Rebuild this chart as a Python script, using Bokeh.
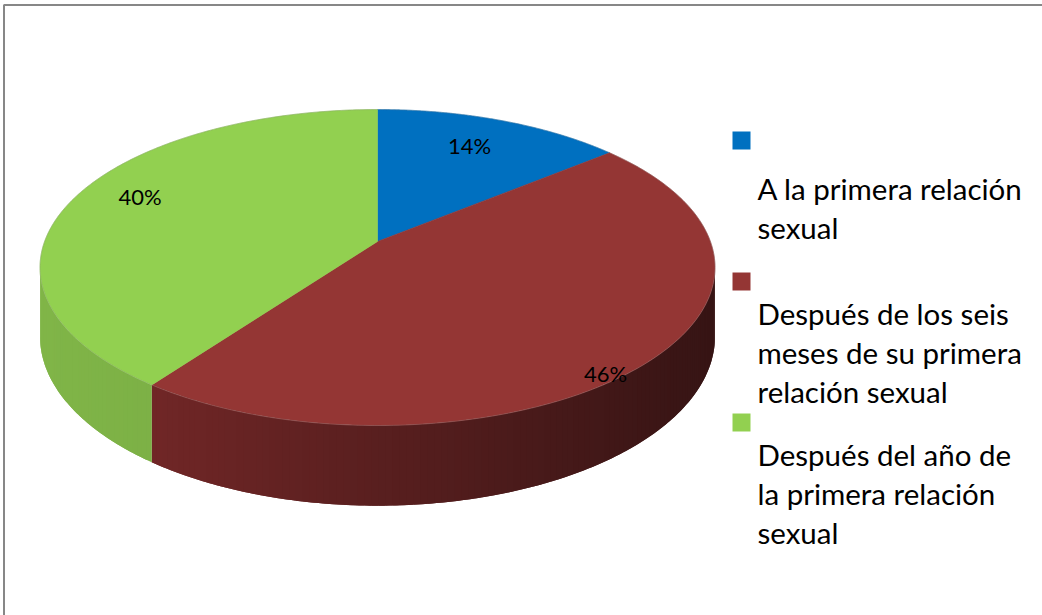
import numpy as np
from bokeh.plotting import figure
from bokeh.models import Range1d
from bokeh.embed import file_html
from bokeh.resources import INLINE
from bokeh.core.properties import value

# ---- data -------------------------------------------------------------
categories = [
    "A la primera relación sexual",
    "Después de los seis meses de su primera relación sexual",
    "Después del año de la primera relación sexual",
]
shares = [14, 46, 40]
pct_labels = ["14%", "46%", "40%"]
legend_lines = [
    ["A la primera relación", "sexual"],
    ["Después de los seis", "meses de su primera", "relación sexual"],
    ["Después del año de", "la primera relación", "sexual"],
]
top_colors = ["#0070C0", "#943634", "#92D050"]
side_light = [(0, 92, 160), (124, 42, 42), (128, 181, 72)]
side_dark = [(0, 48, 96), (54, 20, 20), (108, 156, 58)]

# ---- canvas -------------------------------------------------------------
W, H = 1042, 615
p = figure(width=W, height=H, x_range=Range1d(0, W), y_range=Range1d(H, 0),
           output_backend="svg", toolbar_location=None, min_border=0,
           x_axis_location=None, y_axis_location=None)
p.grid.visible = False
p.outline_line_color = None
p.background_fill_color = "white"
p.border_fill_color = "white"

# chart-area frame
p.line([3.5, 3.5, W], [H, 4.5, 4.5], line_color="#878787", line_width=2)

# ---- perspective pie geometry -----------------------------------------
cx, cy = 377.0, 241.0      # projected pie centre
A, B = 332.9, 153.7        # horizontal / vertical radii before perspective
k = 0.1646                 # perspective strength (far side smaller)
D = 67.0                   # pie thickness
xmin, xmax = cx - A / np.sqrt(1 - k * k), cx + A / np.sqrt(1 - k * k)


def proj(t, f=1.0, z=0.0):
    """t: angle clockwise from 12 o'clock; f: radius fraction; z: depth fraction."""
    u = f * np.sin(t)
    v = f * np.cos(t)
    w = 1 + k * v
    return cx + A * u / w, cy - B * v / w + D * z / w


total = float(sum(shares))
bounds = np.concatenate([[0.0], np.cumsum(shares) / total]) * 2 * np.pi
t_vis0 = np.arccos(-k)
t_vis1 = 2 * np.pi - t_vis0


def mix(c0, c1, s):
    s = min(max(s, 0.0), 1.0)
    r, g, b = (int(round(c0[j] + (c1[j] - c0[j]) * s)) for j in range(3))
    return "#%02x%02x%02x" % (r, g, b)


# side walls, drawn as overlapping shaded strips so no seams show
xs_side, ys_side, cs_side = [], [], []
for i in range(len(shares)):
    a0, a1 = max(bounds[i], t_vis0), min(bounds[i + 1], t_vis1)
    if a1 <= a0:
        continue
    n = max(2, int(np.degrees(a1 - a0)))
    ts = np.linspace(a0, a1, n + 1)
    for j in range(n):
        tt = np.linspace(ts[j], ts[min(j + 2, n)], 4)
        xt, yt = proj(tt)
        xb, yb = proj(tt[::-1], z=1.0)
        xs_side.append(list(xt) + list(xb))
        ys_side.append(list(yt) + list(yb))
        s = (0.5 * (xt[0] + xt[1]) - xmin) / (xmax - xmin)
        cs_side.append(mix(side_light[i], side_dark[i], s))
p.patches(xs_side, ys_side, fill_color=cs_side, line_color=None)

# top faces
xs_top, ys_top = [], []
for i in range(len(shares)):
    ts = np.linspace(bounds[i], bounds[i + 1], 200)
    xa, ya = proj(ts)
    xs_top.append([cx] + list(xa))
    ys_top.append([cy] + list(ya))
p.patches(xs_top, ys_top, fill_color=top_colors, line_color=top_colors, line_width=0.6)

# faint rim on the outer edge of the top face
rim_t = np.linspace(0, 2 * np.pi, 400)
rx, ry = proj(rim_t)
p.line(rx, ry, line_color="#8a8a8a", line_alpha=0.35, line_width=0.8)

# percentage labels (radius fraction and vertical lift in depth units)
lab_f = [0.72, 0.85, 0.78]
lab_z = [-0.1, 0.44, -0.15]
lx, ly = [], []
for i in range(len(shares)):
    mid = 0.5 * (bounds[i] + bounds[i + 1])
    x, y = proj(mid, f=lab_f[i], z=lab_z[i])
    lx.append(float(x))
    ly.append(float(y))
p.text(lx, ly, text=pct_labels, text_font=value("Lato"), text_font_size="22px",
       text_align="center", text_baseline="middle", text_color="#000000")

# ---- legend ---------------------------------------------------------------
leg_x, sq = 732, 18
entry_top = [131, 272, 413]
first_base = [57, 41, 41]
line_h = 39
for i, lines in enumerate(legend_lines):
    p.quad(left=[leg_x], right=[leg_x + sq], top=[entry_top[i]], bottom=[entry_top[i] + sq],
           fill_color=top_colors[i], line_color=None)
    ys = [entry_top[i] + first_base[i] + j * line_h for j in range(len(lines))]
    p.text([leg_x + 25] * len(lines), ys, text=lines, text_font=value("Lato"),
           text_font_size="29.5px", text_align="left", text_baseline="alphabetic",
           text_color="#000000")

open("out.html", "w").write(file_html(p, INLINE))
